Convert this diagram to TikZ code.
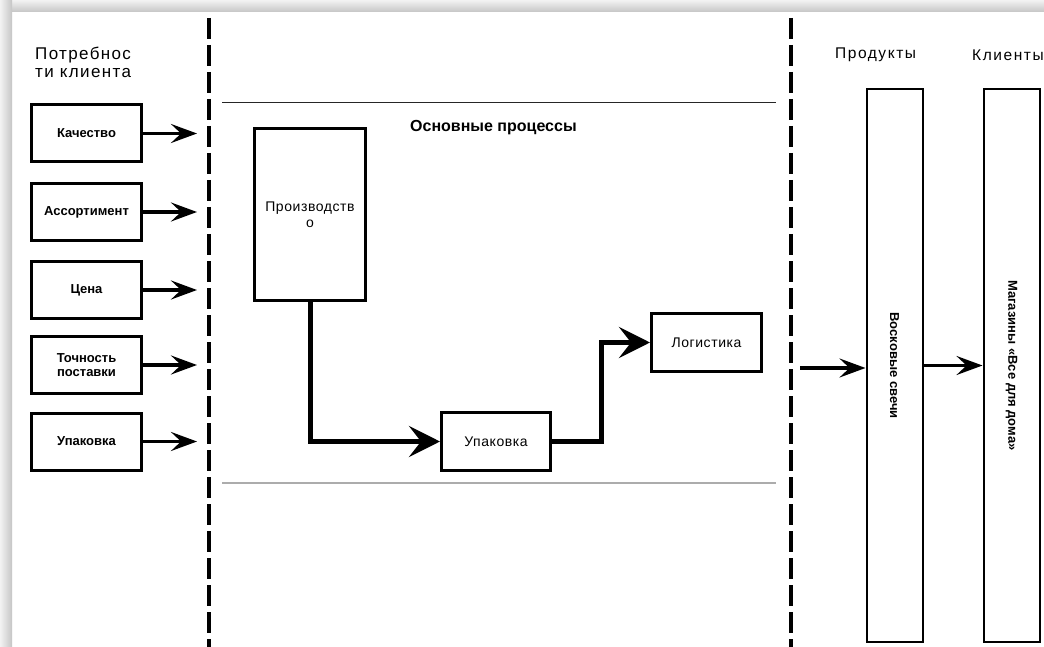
\documentclass[tikz,border=0pt]{standalone}
\usepackage{fontspec}
\setmainfont{Liberation Sans}
\newfontfamily\spacedfont[LetterSpace=8]{Liberation Sans}
\newfontfamily\widefont[LetterSpace=10]{Liberation Sans}
\newfontfamily\airyfont[LetterSpace=4]{Liberation Sans}
\usetikzlibrary{arrows.meta}

\begin{document}
\begin{tikzpicture}[x=1pt,y=-1pt,
  needbox/.style={draw, line width=3pt, minimum width=110pt, minimum height=57pt,
    inner sep=0pt, align=center, font=\bfseries\fontsize{13}{14.5}\selectfont},
  procbox/.style={draw, line width=3pt, inner sep=0pt, align=center,
    font=\airyfont\fontsize{14}{16}\selectfont},
  column/.style={draw, line width=2pt, minimum width=56pt, minimum height=552pt, inner sep=0pt},
  coltext/.style={rotate=-90, font=\bfseries\fontsize{13}{14}\selectfont, inner sep=0pt},
  needarrow/.style={line width=3.3pt, -{Stealth[length=26pt,width=19pt,inset=10pt]}},
  flow/.style={line width=5pt, -{Stealth[length=31pt,width=31pt,inset=12pt]}},
  divider/.style={line width=3.5pt, dash pattern=on 21pt off 6pt},
  header/.style={font=\spacedfont\fontsize{17}{19}\selectfont, inner sep=0pt, anchor=west},
  colhead/.style={font=\widefont\fontsize{15.5}{17}\selectfont, inner sep=0pt, anchor=west},
]
\useasboundingbox (0,0) rectangle (1044,647);
\fill[white] (0,0) rectangle (1044,647);

% shadowed frame edges
\shade[top color=gray!10, bottom color=gray!45] (0,0) rectangle (1044,12);
\shade[left color=gray!10, right color=gray!45] (0,0) rectangle (12,647);

% dashed dividers
\coordinate (d1top) at (209,18);
\coordinate (d1bot) at (209,660);
\coordinate (d2top) at (791,18);
\coordinate (d2bot) at (791,660);
\draw[divider] (d1top) -- (d1bot);
\draw[divider] (d2top) -- (d2bot);

% band of the core processes
\coordinate (bandTL) at (222,103);
\coordinate (bandTR) at (776,103);
\coordinate (bandBL) at (222,483);
\coordinate (bandBR) at (776,483);
\draw[line width=1pt, black!85] (bandTL) -- (bandTR);
\draw[line width=1.5pt, gray!65] (bandBL) -- (bandBR);

% customer needs
\node[header] (needsA) at (35,55) {Потребнос};
\node[header] (needsB) at (35,73) {ти клиента};

\node[needbox] (quality) at (86.5,133.5) {Качество};
\node[needbox] (range)   at (86.5,212)   {Ассортимент};
\node[needbox] (price)   at (86.5,290)   {Цена};
\node[needbox] (timing)  at (86.5,365)   {Точность\\поставки};
\node[needbox] (pack)    at (86.5,441.5) {Упаковка};

\coordinate (needEnd) at (197,0);
\foreach \n in {quality,range,price,timing,pack}
  \draw[needarrow] (\n.east) -- (\n.east -| needEnd);

% core processes
\node[font=\bfseries\fontsize{16}{18}\selectfont, inner sep=0pt, anchor=west] (core) at (410,128) {Основные процессы};

\node[procbox, minimum width=111pt, minimum height=172pt] (make) at (310,214.5) {Производств\\о};
\node[procbox, minimum width=109pt, minimum height=58pt] (wrap) at (496,441.5) {Упаковка};
\node[procbox, minimum width=110pt, minimum height=58pt] (ship) at (706.5,342.5) {Логистика};

\draw[flow] (make.south) |- (wrap.west);
\draw[flow] (wrap.east) -- ++(49,0) |- (ship.west);

% products and customers
\node[colhead] (prodhead) at (835,55) {Продукты};
\node[colhead] (clihead)  at (972,55) {Клиенты};

\node[column] (candles) at (894.5,365.5) {};
\node[column] (shops)   at (1011.5,365.5) {};
\node[coltext] (candlestxt) at (candles.center) {Восковые свечи};
\node[coltext] (shopstxt)   at (shops.center)   {Магазины «Все для дома»};

\coordinate (inflow) at (800,368);
\draw[needarrow] (inflow) -- (inflow -| candles.west);
\draw[needarrow] (candles.east) -- (shops.west);
\end{tikzpicture}
\end{document}
